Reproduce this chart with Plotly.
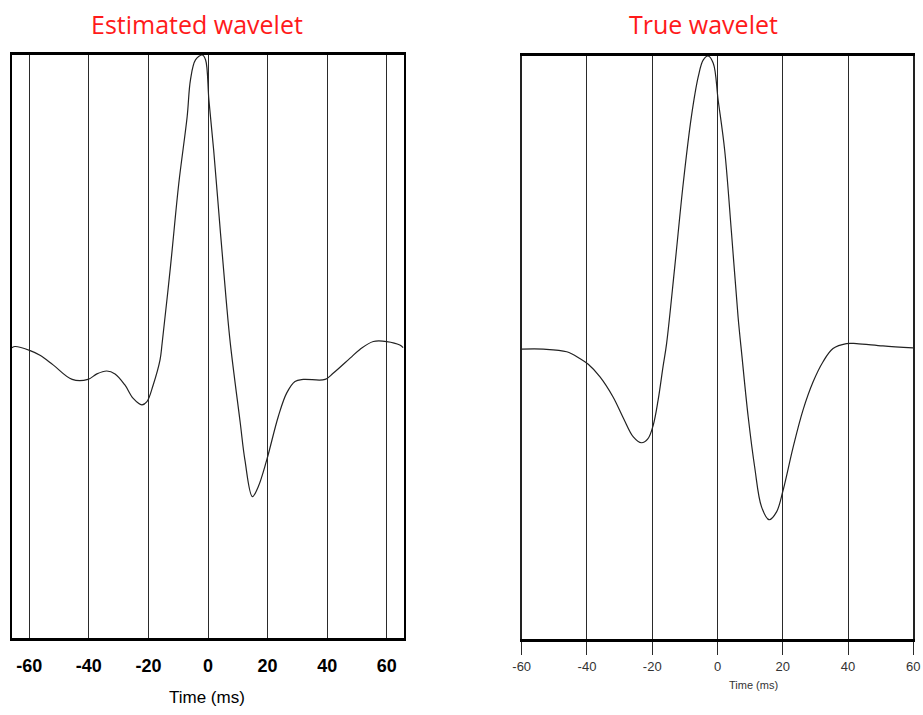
import plotly.graph_objects as go

# Estimated wavelet (time in ms, normalised amplitude)
est_time = [-65.8, -64.8, -59.7, -56.4, -52.0, -45.6, -40.3, -37.3, -34.0, -31.2,
            -27.9, -25.1, -22.2, -20.5, -18.4, -16.1, -15.4, -12.6, -9.8, -7.0,
            -5.9, -4.2, -1.9, -0.8, 0.3, 1.9, 4.2, 6.1, 7.5, 10.8, 12.4, 14.9,
            16.9, 19.7, 23.6, 26.4, 29.2, 32.0, 39.3, 42.0, 47.7, 51.0, 55.5,
            60.0, 64.4, 65.5]
est_amp = [-0.004, 0.0, -0.014, -0.03, -0.063, -0.113, -0.113, -0.094, -0.084, -0.094,
           -0.132, -0.178, -0.2, -0.189, -0.132, -0.046, 0.011, 0.274, 0.56, 0.788,
           0.914, 0.983, 1.0, 0.983, 0.846, 0.674, 0.388, 0.16, 0.01, -0.26, -0.39, -0.515,
           -0.48, -0.39, -0.24, -0.16, -0.12, -0.113, -0.113, -0.092, -0.04, -0.01, 0.017,
           0.017, 0.005, -0.004]

# True wavelet
true_time = [-60.0, -53.4, -46.2, -42.2, -39.6, -36.0, -32.0, -28.9, -25.8, -23.3,
             -21.3, -19.7, -18.2, -16.7, -15.6, -13.1, -10.5, -8.0, -5.9, -4.4,
             -2.9, -1.3, 0.2, 2.2, 4.3, 6.3, 7.5, 9.4, 11.4, 13.5, 15.8, 18.1,
             20.1, 23.2, 26.2, 29.3, 32.3, 35.4, 39.5, 42.6, 50.7, 59.9]
true_amp = [-0.005, -0.005, -0.014, -0.037, -0.057, -0.1, -0.169, -0.24, -0.306, -0.326,
            -0.312, -0.266, -0.18, -0.066, 0.014, 0.277, 0.563, 0.792, 0.929, 0.986,
            1.0, 0.975, 0.849, 0.677, 0.392, 0.106, -0.03, -0.237, -0.41, -0.546, -0.59, -0.563,
            -0.489, -0.34, -0.214, -0.117, -0.049, -0.003, 0.014, 0.014, 0.006, -0.001]

tick_vals = [-60, -40, -20, 0, 20, 40, 60]
tick_text = ["-60", "-40", "-20", "0", "20", "40", "60"]

W, H = 923, 715

fig = go.Figure()
fig.add_trace(go.Scatter(x=est_time, y=est_amp, mode="lines", line_shape="spline",
                         line=dict(color="#222222", width=1.2), xaxis="x", yaxis="y",
                         showlegend=False, hoverinfo="skip"))
fig.add_trace(go.Scatter(x=true_time, y=true_amp, mode="lines", line_shape="spline",
                         line=dict(color="#222222", width=1.2), xaxis="x2", yaxis="y2",
                         showlegend=False, hoverinfo="skip"))

fig.update_layout(
    width=W, height=H,
    margin=dict(l=0, r=0, t=0, b=0),
    paper_bgcolor="white", plot_bgcolor="white",
    xaxis=dict(domain=[12 / W, 404 / W], range=[-65.8, 65.8],
               tickvals=tick_vals, ticktext=tick_text,
               showgrid=True, gridcolor="#2a2a2a", gridwidth=1.4,
               zeroline=False, showline=True, linecolor="black", linewidth=3, mirror=True,
               ticks="", ticklabelstandoff=9, automargin=False,
               tickfont=dict(family="Liberation Sans Narrow, Liberation Sans", size=18,
                             color="black", weight="bold"),
               anchor="y", fixedrange=True),
    yaxis=dict(domain=[1 - 638 / H, 1 - 55 / H], range=[-1.0, 1.0],
               showgrid=False, zeroline=False, showticklabels=False,
               showline=True, linecolor="black", linewidth=2, mirror=True,
               automargin=False, anchor="x", fixedrange=True),
    xaxis2=dict(domain=[521.7 / W, 913.3 / W], range=[-60, 60],
                tickvals=tick_vals, ticktext=tick_text,
                showgrid=True, gridcolor="#2a2a2a", gridwidth=1.4,
                zeroline=False, showline=True, linecolor="black", linewidth=2.5, mirror=True,
                ticks="outside", ticklen=13, tickwidth=1.4, tickcolor="#2a2a2a",
                automargin=False,
                tickfont=dict(family="Liberation Sans", size=13, color="#333333"),
                anchor="y2", fixedrange=True),
    yaxis2=dict(domain=[1 - 639.3 / H, 1 - 56 / H], range=[-1.0, 1.0],
                showgrid=False, zeroline=False, showticklabels=False,
                showline=True, linecolor="#222222", linewidth=1.5, mirror=True,
                automargin=False, anchor="x2", fixedrange=True),
    annotations=[
        dict(text="Estimated wavelet", x=197 / W, y=1 - 24 / H, xref="paper", yref="paper",
             showarrow=False, xanchor="center", yanchor="middle",
             font=dict(family="Open Sans", size=25, color="#ff1a1a")),
        dict(text="True wavelet", x=703 / W, y=1 - 24 / H, xref="paper", yref="paper",
             showarrow=False, xanchor="center", yanchor="middle",
             font=dict(family="Open Sans", size=25, color="#ff1a1a")),
        dict(text="Time (ms)", x=207 / W, y=1 - 697 / H, xref="paper", yref="paper",
             showarrow=False, xanchor="center", yanchor="middle",
             font=dict(family="Liberation Sans Narrow, Liberation Sans", size=17, color="black")),
        dict(text="Time (ms)", x=753 / W, y=1 - 685 / H, xref="paper", yref="paper",
             showarrow=False, xanchor="center", yanchor="middle",
             font=dict(family="Liberation Sans", size=11, color="#333333")),
    ],
)

fig.write_html("out.html")
